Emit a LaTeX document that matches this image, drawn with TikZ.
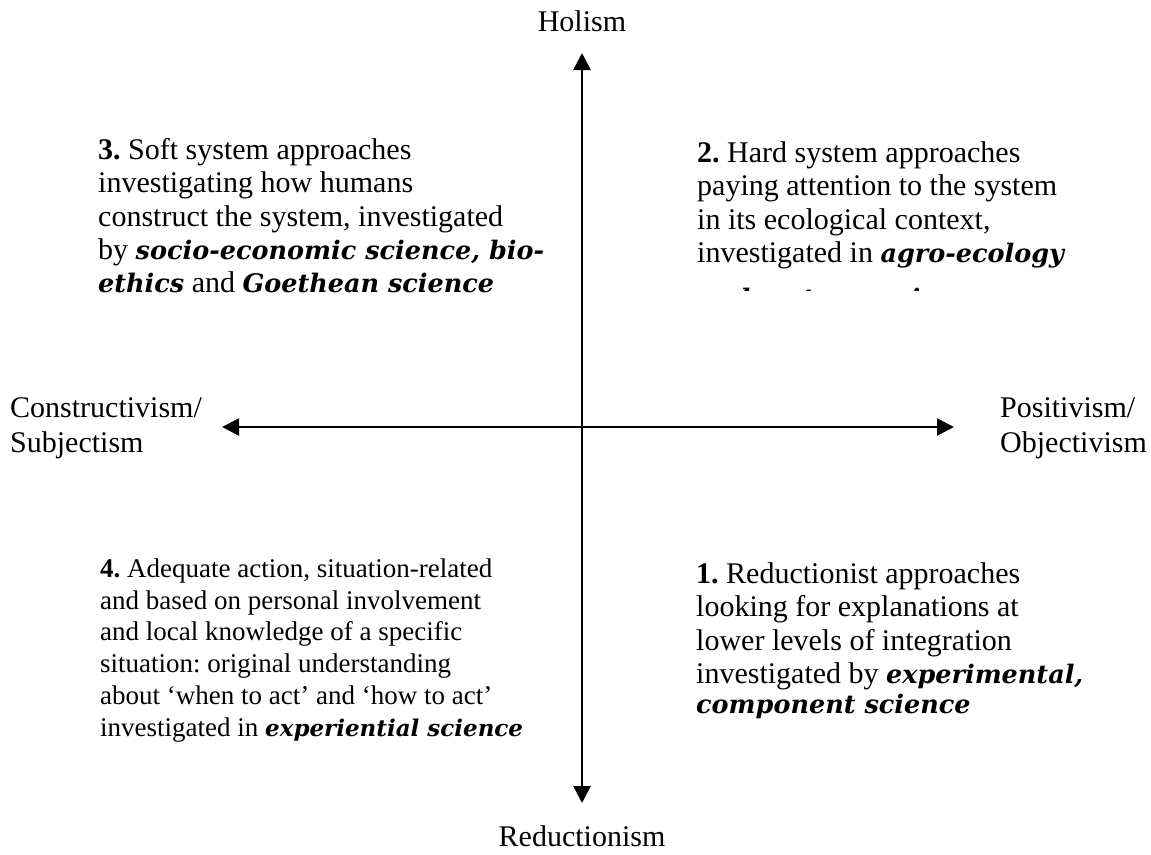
\documentclass[tikz,border=0pt]{standalone}
\usepackage{fontspec}
\setmainfont{Liberation Serif}
\newfontfamily\dvs{DejaVu Serif}
\usetikzlibrary{arrows.meta}
\frenchspacing
\newcommand\kwd[2][25.5]{{\dvs\bfseries\itshape\fontsize{#1}{30}\selectfont #2}}
\newcommand\fstrut{\rule{0pt}{25pt}}
\tikzset{
  axis/.style={line width=2.6pt, {Triangle[width=17pt,length=17pt]}-{Triangle[width=17pt,length=17pt]}},
  quad/.style={anchor=north west, inner sep=0pt, align=left, font=\fontsize{30}{33.4}\selectfont\frenchspacing},
  quadsmall/.style={anchor=north west, inner sep=0pt, align=left, font=\fontsize{27}{31.8}\selectfont\frenchspacing},
  pole/.style={inner sep=0pt, font=\fontsize{30}{35}\selectfont},
}
\begin{document}
\begin{tikzpicture}[x=1pt,y=-1pt]
\useasboundingbox (0,0) rectangle (1151,854);
% axes
\coordinate (top) at (582,53);
\coordinate (bot) at (582,803);
\coordinate (lft) at (222,427);
\coordinate (rgt) at (954,427);
\draw[axis] (bot) -- (top);
\draw[axis] (lft) -- (rgt);
% poles
\node[pole, anchor=base] (holism) at (582,31) {Holism};
\node[pole, anchor=base] (reduct) at (582,846) {Reductionism};
\node[pole, anchor=north west, align=left] (constr) at (10,392) {\fstrut Constructivism/\\Subjectism};
\node[pole, anchor=north west, align=left] (posit) at (1000,392) {\fstrut Positivism/\\Objectivism};
% quadrants
\node[quad] (q3) at (98,134) {\fstrut\textbf{3.} Soft system approaches\\
investigating how humans\\
construct the system, investigated\\
by \kwd{socio-economic science, bio-}\\
\kwd{ethics} and \kwd{Goethean science}};
\node[quad] (q2) at (697,137) {\fstrut\textbf{2.} Hard system approaches\\
paying attention to the system\\
in its ecological context,\\
investigated in \kwd{agro-ecology}};
\begin{scope}
\clip (690,277) rectangle (1010,290.5);
\node[anchor=base west, inner sep=0pt] (q2b) at (697,307) {\kwd{and systems science}};
\end{scope}
\node[quad] (q1) at (696,558) {\fstrut\textbf{1.} Reductionist approaches\\
looking for explanations at\\
lower levels of integration\\
investigated by \kwd{experimental,}\\[-3pt]
\kwd{component science}};
\node[quadsmall] (q4) at (100,552) {\fstrut\textbf{4.} Adequate action, situation-related\\
and based on personal involvement\\
and local knowledge of a specific\\
situation: original understanding\\
about `when to act' and `how to act'\\
investigated in \kwd[23]{experiential science}};
\end{tikzpicture}
\end{document}
